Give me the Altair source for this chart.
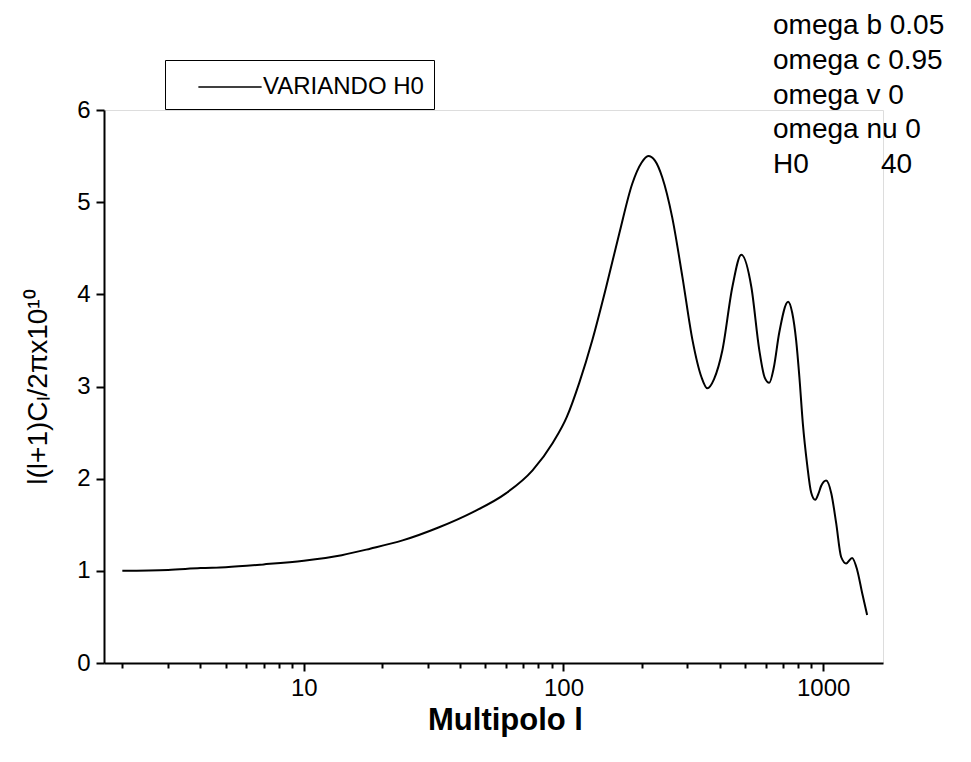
import altair as alt
import pandas as pd

# multipole l and l(l+1)C_l/2pi x10^10
multipolo = [2, 3, 4, 5, 7, 10, 14, 18, 24, 33, 45, 60, 76, 91, 103, 115, 129, 146,
             164, 184, 200, 212, 225, 240, 262, 287, 314, 340, 358, 380, 409, 447,
             484, 529, 568, 595, 620, 645, 677, 733, 760, 787, 810, 835, 868, 899,
             932, 960, 982, 1027, 1075, 1122, 1173, 1226, 1293, 1352, 1413, 1477]
cl = [1.00, 1.01, 1.03, 1.04, 1.07, 1.11, 1.17, 1.24, 1.33, 1.47, 1.64, 1.84, 2.09,
      2.39, 2.67, 3.04, 3.50, 4.08, 4.66, 5.20, 5.43, 5.50, 5.45, 5.27, 4.84, 4.19,
      3.50, 3.10, 2.98, 3.08, 3.39, 4.08, 4.43, 4.08, 3.39, 3.10, 3.04, 3.20, 3.58,
      3.92, 3.80, 3.50, 3.10, 2.60, 2.15, 1.85, 1.77, 1.84, 1.92, 1.98, 1.84, 1.52,
      1.15, 1.08, 1.14, 1.01, 0.76, 0.52]
serie = "VARIANDO H0"

x_ticks = [2, 3, 4, 5, 6, 7, 8, 9, 10, 20, 30, 40, 50, 60, 70, 80, 90, 100,
           200, 300, 400, 500, 600, 700, 800, 900, 1000]
y_ticks = [0, 0.5, 1, 1.5, 2, 2.5, 3, 3.5, 4, 4.5, 5, 5.5, 6]

notas = ["omega b 0.05", "omega c 0.95", "omega v 0", "omega nu 0", "H0", "40"]
nota_fila = [0, 1, 2, 3, 4, 4]
nota_col = [0, 0, 0, 0, 0, 1]

FONT = "Liberation Sans"

df = pd.DataFrame({"l": multipolo, "v": cl, "s": serie})
notas_df = pd.DataFrame({"t": notas, "fila": nota_fila, "col": nota_col})

MAJ_X = "indexof([10,100,1000], datum.value) >= 0"
MAJ_Y = "datum.value % 1 == 0"

line = alt.Chart(df).mark_line(color="black", strokeWidth=2, interpolate="monotone").encode(
    x=alt.X("l:Q",
            scale=alt.Scale(type="log", domain=[1.7, 1700], nice=False),
            axis=alt.Axis(values=x_ticks, format="d",
                          labelExpr=MAJ_X + " ? datum.label : ''",
                          tickSize={"condition": {"test": MAJ_X, "value": 8}, "value": 5},
                          tickWidth=2, domainWidth=2, domainColor="black", tickColor="black",
                          labelFont=FONT, labelFontSize=24, labelColor="black", labelPadding=5,
                          labelFlush=False, labelOverlap=False,
                          grid=False, title="Multipolo l", titleFont=FONT, titleFontSize=31,
                          titleFontWeight="bold", titleColor="black", titlePadding=5,
                          titleX=401)),
    y=alt.Y("v:Q",
            scale=alt.Scale(domain=[0, 6], nice=False),
            axis=alt.Axis(values=y_ticks, format="d",
                          labelExpr=MAJ_Y + " ? datum.label : ''",
                          tickSize={"condition": {"test": MAJ_Y, "value": 8}, "value": 5},
                          tickWidth=2, domainWidth=2, domainColor="black", tickColor="black",
                          labelFont=FONT, labelFontSize=24, labelColor="black", labelPadding=6,
                          labelFlush=False, labelOverlap=False,
                          grid=False, title="l(l+1)Cₗ/2πx10¹⁰", titleFont=FONT, titleFontSize=28,
                          titleFontWeight="normal", titleColor="black", titlePadding=24)),
    stroke=alt.Stroke("s:N", scale=alt.Scale(range=["black"]),
                      legend=alt.Legend(title=None, orient="none", legendX=61, legendY=-50,
                                        symbolType="M-2,0H2", symbolSize=1000, symbolStrokeWidth=1.5,
                                        symbolStrokeColor="black",
                                        labelFont=FONT, labelFontSize=24, labelColor="black",
                                        labelOffset=16, labelLimit=500,
                                        strokeColor="black", fillColor="white", padding=10,
                                        symbolOffset=38)),
)

texto = alt.Chart(notas_df).mark_text(font=FONT, fontSize=28, color="black", align="left",
                                      baseline="alphabetic").encode(
    x=alt.X("col:Q", scale=alt.Scale(domain=[0, 1], range=[669, 777]), axis=None),
    y=alt.Y("fila:Q", scale=alt.Scale(domain=[0, 4], range=[-76, 63]), axis=None),
    text="t:N",
)

chart = alt.layer(line, texto).resolve_scale(x="independent", y="independent").properties(
    width=779, height=553,
    autosize=alt.AutoSizeParams(type="none"),
    padding={"left": 96, "top": 102, "right": 80, "bottom": 80},
).configure_view(stroke=None).configure(background="white")

chart.save("out.html", embed_options={"renderer": "svg", "actions": False})
